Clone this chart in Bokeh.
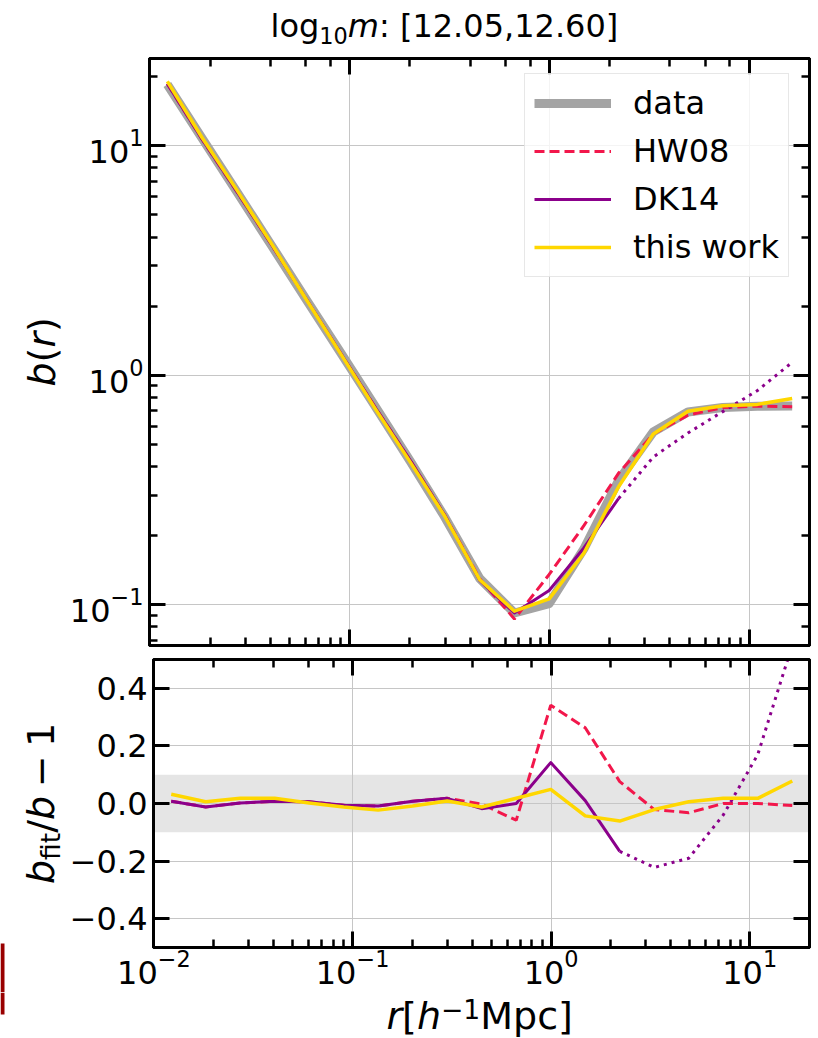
import math
from bokeh.plotting import figure
from bokeh.models import (LogAxis, LinearAxis, Range1d, Legend, LegendItem,
                          BoxAnnotation, FixedTicker, CustomJSTickFormatter)
from bokeh.core.properties import value
from bokeh.layouts import column, row
from bokeh.embed import file_html
from bokeh.resources import INLINE

FONT = "DejaVu Sans"

# ---------------- data ----------------
r = [0.01222, 0.01822, 0.02719, 0.04056, 0.06049, 0.09027, 0.1346, 0.2009,
     0.2997, 0.4472, 0.6672, 0.9956, 1.485, 2.216, 3.306, 4.932, 7.358,
     10.98, 16.38]
b_data = [18.5, 10.8, 6.31, 3.68, 2.14, 1.25, 0.728, 0.422, 0.240, 0.130,
          0.092, 0.101, 0.175, 0.348, 0.566, 0.692, 0.723, 0.733, 0.734]
ratio_hw08 = [0.008, -0.012, 0.002, 0.008, 0.006, -0.006, -0.009, 0.008, 0.018,
              -0.002, -0.058, 0.341, 0.263, 0.076, -0.021, -0.032, 0.0, 0.0,
              -0.007]
ratio_dk14 = [0.008, -0.012, 0.002, 0.008, 0.006, -0.006, -0.009, 0.008, 0.018,
              -0.018, 0.0, 0.142, 0.01, -0.166, -0.222, -0.19, -0.04, 0.17,
              0.55]
ratio_this_work = [0.032, 0.006, 0.018, 0.018, 0.002, -0.012, -0.023, -0.009,
                   0.009, -0.012, 0.018, 0.049, -0.043, -0.061, -0.021, 0.006,
                   0.018, 0.018, 0.078]
dk14_solid_last = 13          # DK14 drawn solid up to this index, dotted after
band_low, band_high = -0.1, 0.1
ratio_ticks = [-0.4, -0.2, 0.0, 0.2, 0.4]
ratio_tick_labels = ["\u22120.4", "\u22120.2", "0.0", "0.2", "0.4"]
series_names = ["data", "HW08", "DK14", "this work"]

# fits from data and ratio  (b_fit = b * (1 + ratio))
b_hw08 = [b * (1 + q) for b, q in zip(b_data, ratio_hw08)]
b_dk14 = [b * (1 + q) for b, q in zip(b_data, ratio_dk14)]
b_this = [b * (1 + q) for b, q in zip(b_data, ratio_this_work)]

# ---------------- styles ----------------
C_DATA = "#a4a4a4"
C_HW = "#f2174b"
C_DK = "#8b008b"
C_TW = "#ffd700"
GRID = "#c6c6c6"

W = {"l": .2778, "o": .6118, "g": .6348, "m": .9741, ":": .3369, " ": .3179,
     "[": .3901, "]": .3901, ".": .3179, ",": .3179, "b": .6348, "(": .3901,
     ")": .3901, "r": .4111, "h": .6338, "\u2212": .8379, "M": .8628,
     "p": .6348, "c": .5498, "f": .3521, "i": .2778, "t": .3921, "/": .3369}
for d in "0123456789":
    W[d] = .6362

BASE_FIX = 0.34   # em offset between requested and drawn baseline


def tw(s, size):
    return sum(W[c] for c in s) * size


def text_fig(width, height):
    """A blank figure whose data units are its own pixels (y up)."""
    p = figure(width=width, height=height, x_range=Range1d(0, width),
               y_range=Range1d(0, height), x_axis_type=None, y_axis_type=None,
               output_backend="svg", toolbar_location=None, min_border=0,
               frame_align=False)
    p.outline_line_color = None
    p.background_fill_color = "white"
    p.border_fill_color = "white"
    return p


def add_pieces(fig, pieces, start, base, rotated=False):
    """pieces: (text, style, size, shift_down) laid out one after another."""
    pos = start
    for text, style, size, shift in pieces:
        fix = BASE_FIX * size
        if rotated:
            x, y, ang = base + shift - fix, pos, math.pi / 2
        else:
            x, y, ang = pos, base - shift + fix, 0
        fig.text(x=[x], y=[y], text=[text], text_font=value(FONT),
                 text_font_style=value(style), text_font_size=value(f"{size}px"),
                 text_color="black", text_align="left",
                 text_baseline="alphabetic", angle=ang)
        pos += tw(text, size)


BLANK = CustomJSTickFormatter(code="return ''")


def style_axis(ax, labels=True, standoff=6):
    ax.axis_line_width = 3
    ax.axis_line_color = "black"
    ax.major_tick_in = 16
    ax.major_tick_out = 0
    ax.minor_tick_in = 8
    ax.minor_tick_out = 0
    ax.major_tick_line_width = 3
    ax.minor_tick_line_width = 2.5
    ax.major_tick_line_color = "black"
    ax.minor_tick_line_color = "black"
    ax.major_label_text_font = FONT
    ax.major_label_text_color = "black"
    if labels:
        ax.major_label_text_font_size = "32px"
        ax.major_label_standoff = standoff
    else:
        ax.formatter = BLANK
        ax.major_label_text_font_size = "2px"
        ax.major_label_standoff = 0
    ax.axis_label = None


LEFT_W = 66
PLOT_W = 818 - LEFT_W


def base_fig(height, yrange, ytype, border_top, border_bottom):
    p = figure(width=PLOT_W, height=height, x_axis_type="log", y_axis_type=ytype,
               x_range=Range1d(0.00995, 20), y_range=yrange,
               output_backend="svg", toolbar_location=None,
               min_border_left=149 - LEFT_W, min_border_right=9,
               min_border_top=border_top, min_border_bottom=border_bottom,
               frame_align=False)
    p.outline_line_color = "black"
    p.outline_line_width = 3
    p.background_fill_color = "white"
    p.border_fill_color = "white"
    p.xgrid.grid_line_color = GRID
    p.ygrid.grid_line_color = GRID
    p.xgrid.grid_line_width = 1
    p.ygrid.grid_line_width = 1
    return p


# page rows: title 0..55, top panel 55..652, bottom panel 652..992, x label 992..1038
TITLE_H = 55
TOP_H = 652 - TITLE_H
BOT_END = 992
BOT_H = BOT_END - 652
XL_H = 1038 - BOT_END

# ---------------- title ----------------
title_fig = text_fig(818, TITLE_H)
add_pieces(title_fig, [("log", "normal", 32, 0), ("10", "normal", 22.4, 6.5),
                       ("m", "italic", 32, 0), (": [12.05,12.60]", "normal", 32, 0)],
           start=270, base=TITLE_H - 36)

# ---------------- top panel ----------------
top = base_fig(TOP_H, Range1d(0.0664, 24.0), "log", 3, 7)
style_axis(top.xaxis[0], labels=False)
style_axis(top.yaxis[0], labels=True)
ax_top = LogAxis()
style_axis(ax_top, labels=False)
top.add_layout(ax_top, "above")
ax_right = LogAxis()
style_axis(ax_right, labels=False)
top.add_layout(ax_right, "right")

rd = top.line(r, b_data, line_color=C_DATA, line_width=9, line_join="round")
rh = top.line(r, b_hw08, line_color=C_HW, line_width=3, line_dash="10 5")
rk = top.line(r[:dk14_solid_last + 1], b_dk14[:dk14_solid_last + 1],
              line_color=C_DK, line_width=3, line_join="round")
top.line(r[dk14_solid_last:], b_dk14[dk14_solid_last:], line_color=C_DK,
         line_width=3, line_dash="3 5")
rt = top.line(r, b_this, line_color=C_TW, line_width=3.5, line_join="round")

legend = Legend(items=[LegendItem(label=series_names[0], renderers=[rd]),
                       LegendItem(label=series_names[1], renderers=[rh]),
                       LegendItem(label=series_names[2], renderers=[rk]),
                       LegendItem(label=series_names[3], renderers=[rt])],
                location=(375, 368), margin=0, padding=9, spacing=8,
                glyph_width=77, glyph_height=40, label_height=40,
                label_standoff=22, label_text_font=FONT,
                label_text_font_size="32px", label_text_color="black",
                border_line_color="#d0d0d0", border_line_width=1.5,
                background_fill_color="white", background_fill_alpha=0.8)
top.add_layout(legend)

ylab_top = text_fig(LEFT_W, TOP_H)
add_pieces(ylab_top, [("b", "italic", 38, 0), ("(", "normal", 38, 0),
                      ("r", "italic", 38, 0), (")", "normal", 38, 0)],
           start=652 - 386, base=54, rotated=True)

# ---------------- bottom panel ----------------
bot = base_fig(BOT_H, Range1d(-0.5, 0.5), "linear", 7, BOT_END - 947)
style_axis(bot.xaxis[0], labels=True, standoff=1)
style_axis(bot.yaxis[0], labels=True)
bot.yaxis[0].ticker = FixedTicker(ticks=ratio_ticks, minor_ticks=[])
bot.yaxis[0].major_label_overrides = dict(zip(ratio_ticks, ratio_tick_labels))
bot.ygrid.ticker = FixedTicker(ticks=ratio_ticks, minor_ticks=[])
bax_top = LogAxis()
style_axis(bax_top, labels=False)
bot.add_layout(bax_top, "above")
bax_right = LinearAxis(ticker=FixedTicker(ticks=ratio_ticks, minor_ticks=[]))
style_axis(bax_right, labels=False)
bot.add_layout(bax_right, "right")

bot.add_layout(BoxAnnotation(bottom=band_low, top=band_high, fill_color="#e5e5e5",
                             fill_alpha=1.0, line_color=None, level="image"))
bot.line(r, ratio_hw08, line_color=C_HW, line_width=3, line_dash="10 5")
bot.line(r[:dk14_solid_last + 1], ratio_dk14[:dk14_solid_last + 1],
         line_color=C_DK, line_width=3, line_join="round")
bot.line(r[dk14_solid_last:], ratio_dk14[dk14_solid_last:], line_color=C_DK,
         line_width=3, line_dash="3 5")
bot.line(r, ratio_this_work, line_color=C_TW, line_width=3.5, line_join="round")

ylab_bot = text_fig(LEFT_W, BOT_H)
add_pieces(ylab_bot, [("b", "italic", 38, 0), ("fit", "normal", 26.6, 6),
                      ("/", "normal", 38, 0), ("b", "italic", 38, 0),
                      (" ", "normal", 26.6, 0), ("\u2212", "normal", 38, 0),
                      (" ", "normal", 26.6, 0), ("1", "normal", 38, 0)],
           start=BOT_END - 883.5, base=53, rotated=True)

# ---------------- x label ----------------
xlab = text_fig(818, XL_H)
add_pieces(xlab, [("r", "italic", 38, 0), ("[", "normal", 38, 0),
                  ("h", "italic", 38, 0), ("\u22121", "normal", 26.6, -11),
                  ("Mpc", "normal", 38, 0), ("]", "normal", 38, 0)],
           start=386, base=1038 - 1028.5)

# stray dark-red bar at the lower-left edge of the source image (page y 943..1014)
ylab_bot.quad(left=[0], right=[4], top=[BOT_END - 943], bottom=[0],
              fill_color="#990000", line_color=None)
xlab.quad(left=[0], right=[4], top=[XL_H], bottom=[1038 - 1014],
          fill_color="#990000", line_color=None)

layout = column(title_fig,
                row(ylab_top, top, spacing=0),
                row(ylab_bot, bot, spacing=0),
                xlab, spacing=0)
open("out.html", "w").write(file_html(layout, INLINE))
